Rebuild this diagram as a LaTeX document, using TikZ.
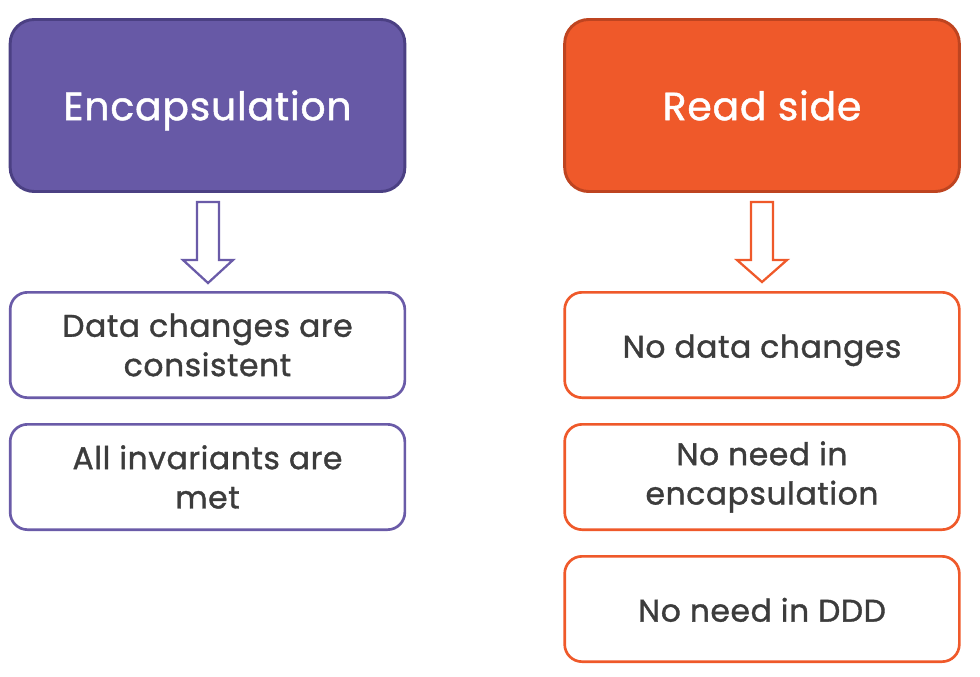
\documentclass[tikz,border=0pt]{standalone}
\usepackage{fontspec}
\setmainfont{Poppins}
\definecolor{purplefill}{HTML}{6759A6}
\definecolor{purpleedge}{HTML}{4B4083}
\definecolor{purpleline}{HTML}{6A5BA8}
\definecolor{orangefill}{HTML}{EF592A}
\definecolor{orangeedge}{HTML}{BE4420}
\definecolor{orangeline}{HTML}{EF592A}
\definecolor{bodytext}{HTML}{3C3C3C}
% text with its capitals centred on the node centre
\newcommand{\headtext}[1]{\raisebox{-11pt}[0pt][0pt]{#1}}
\newcommand{\onelinetext}[1]{\raisebox{-9.5pt}[0pt][0pt]{#1}}
\begin{document}
\begin{tikzpicture}[x=0.75pt,y=-0.75pt,
  headbox/.style={draw, line width=2.2pt, rounded corners=18pt, minimum width=296pt, minimum height=129pt,
    text=white, font=\fontsize{29.5}{34}\selectfont\addfontfeature{LetterSpace=2,FakeBold=1.2}, inner sep=0pt},
  itembox/.style={draw, line width=2pt, fill=white, rounded corners=13pt, minimum width=296pt, minimum height=79pt,
    text=bodytext, align=center, font=\fontsize{23.5}{29.5}\selectfont\addfontfeature{LetterSpace=2,FakeBold=1.2}, inner sep=0pt},
  hollowarrow/.style={draw, line width=1.7pt, fill=white, line join=miter}
]
\useasboundingbox (0,0) rectangle (980,677);

% left column
\node[headbox, fill=purplefill, draw=purpleedge] (enc) at (207.5,105.5) {\headtext{Encapsulation}};
\node[itembox, draw=purpleline] (l1) at (207.5,345) {Data changes are\\consistent};
\node[itembox, draw=purpleline] (l2) at (207.5,477) {All invariants are\\met};

% right column
\node[headbox, fill=orangefill, draw=orangeedge] (read) at (762,105.5) {\headtext{Read side}};
\node[itembox, draw=orangeline] (r1) at (762,345) {\onelinetext{No data changes}};
\node[itembox, draw=orangeline] (r2) at (762,477) {No need in\\encapsulation};
\node[itembox, draw=orangeline] (r3) at (762,609) {\onelinetext{No need in DDD}};

% hollow block arrows between heading and first item
\coordinate (la) at (208,202);
\draw[hollowarrow, draw=purpleline]
  ([xshift=-8.25pt]la) -- ++(0,58) -- ++(-10.5pt,0) -- (208,283) -- (233,260) -- ++(-10.5pt,0) -- ([xshift=8.25pt]la) -- cycle;
\coordinate (ra) at (762,202);
\draw[hollowarrow, draw=orangeline]
  ([xshift=-8.25pt]ra) -- ++(0,58) -- ++(-10.5pt,0) -- (762,282) -- (787,260) -- ++(-10.5pt,0) -- ([xshift=8.25pt]ra) -- cycle;
\end{tikzpicture}
\end{document}
